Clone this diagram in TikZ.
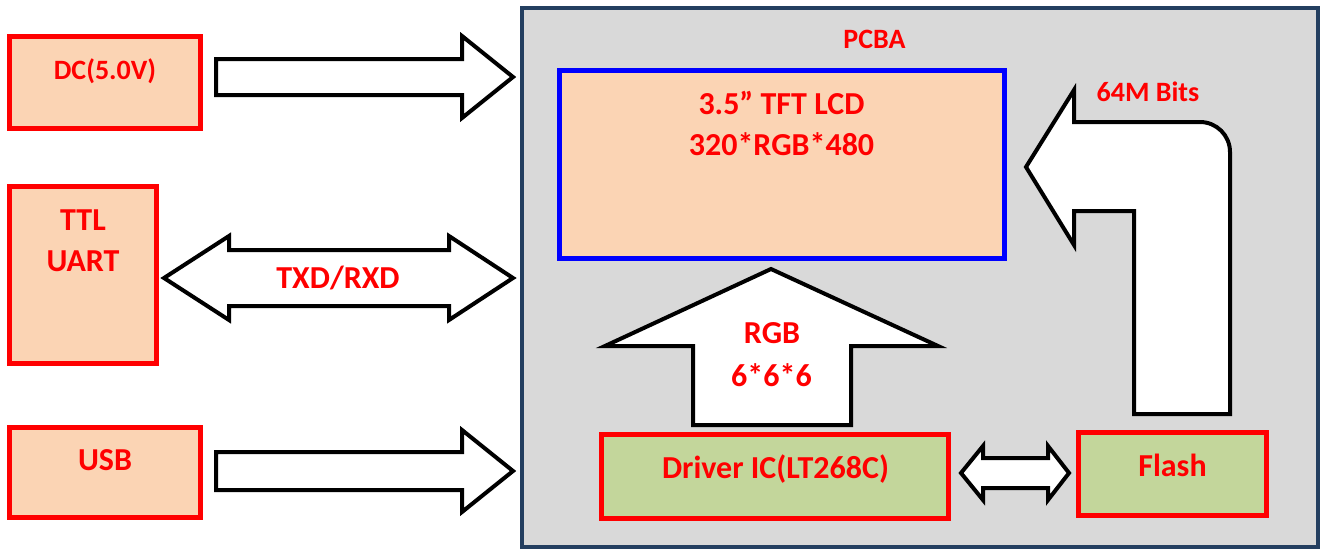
\documentclass[tikz,border=0pt]{standalone}
\usepackage{fontspec}
\setmainfont{Carlito}
\usepackage{xcolor}
\usepackage{tikz}

\definecolor{peach}{HTML}{FBD4B4}
\definecolor{chipgreen}{HTML}{C3D69B}
\definecolor{boardgray}{HTML}{D9D9D9}
\definecolor{boardnavy}{HTML}{243F60}

\tikzset{
  inbox/.style={draw=red, line width=5pt, fill=peach, inner sep=0pt},
  chipbox/.style={draw=red, line width=5pt, fill=chipgreen, inner sep=0pt},
  boxarrow/.style={draw=black, line width=4pt, fill=white, line join=miter},
  lbl/.style={text=red, anchor=base, inner sep=0pt, font=\bfseries\fontsize{32}{38}\selectfont},
  smalllbl/.style={lbl, font=\bfseries\fontsize{28}{34}\selectfont}
}

\begin{document}
\begin{tikzpicture}[x=1pt, y=-1pt]
\useasboundingbox (0,0) rectangle (1320,549);

\node[draw=boardnavy, line width=4pt, fill=boardgray, inner sep=0pt, minimum width=796, minimum height=539] (pcba) at (920,277.5) {};
\node[draw=blue, line width=5pt, fill=peach, inner sep=0pt, minimum width=445, minimum height=188] (lcd) at (782,164.5) {};

\node[inbox, minimum width=191, minimum height=92] (dc) at (105,82.5) {};
\node[inbox, minimum width=147, minimum height=177] (uart) at (83,275) {};
\node[inbox, minimum width=191, minimum height=90] (usb) at (105,472.5) {};
\node[chipbox, minimum width=347, minimum height=84] (driver) at (775,476.5) {};
\node[chipbox, minimum width=188, minimum height=83] (flash) at (1172.5,474) {};

\draw[boxarrow] (216,59) -- (462,59) -- (462,36) -- (513,77) -- (462,118) -- (462,95) -- (216,95) -- cycle;
\draw[boxarrow] (216,452) -- (462,452) -- (462,430) -- (513,471) -- (462,512) -- (462,490) -- (216,490) -- cycle;
\draw[boxarrow] (164,278) -- (229,236) -- (229,250) -- (449,250) -- (449,236) -- (513,278) -- (449,320) -- (449,306) -- (229,306) -- (229,320) -- cycle;
\draw[boxarrow] (961,473) -- (983,446) -- (983,458) -- (1048,458) -- (1048,446) -- (1069,473) -- (1048,500) -- (1048,488) -- (983,488) -- (983,500) -- cycle;
\draw[boxarrow] (771,269) -- (938,346) -- (851,346) -- (851,425) -- (693,425) -- (693,346) -- (605,346) -- cycle;
\draw[boxarrow] (1026,167) -- (1074,90) -- (1074,122) -- (1200,122) .. controls (1216.6,122) and (1230,135.4) .. (1230,152) -- (1230,414) -- (1134,414) -- (1134,211) -- (1074,211) -- (1074,245) -- cycle;

\node[smalllbl] (dctxt) at (105,79) {DC(5.0V)};
\node[lbl] (uarttxt1) at (83,230) {TTL};
\node[lbl] (uarttxt2) at (83,271) {UART};
\node[lbl] (usbtxt) at (105,470) {USB};
\node[lbl] (serialtxt) at (338,288) {TXD/RXD};
\node[smalllbl] (pcbatxt) at (874.5,48) {PCBA};
\node[lbl] (lcdtxt1) at (781.5,114) {3.5” TFT LCD};
\node[lbl] (lcdtxt2) at (781.5,155) {320*RGB*480};
\node[lbl] (rgbtxt1) at (772,343) {RGB};
\node[lbl] (rgbtxt2) at (771.5,386) {6*6*6};
\node[smalllbl] (bitstxt) at (1148,101) {64M Bits};
\node[lbl] (drivertxt) at (775.5,478) {Driver IC(LT268C)};
\node[lbl] (flashtxt) at (1172.5,476) {Flash};
\end{tikzpicture}
\end{document}
